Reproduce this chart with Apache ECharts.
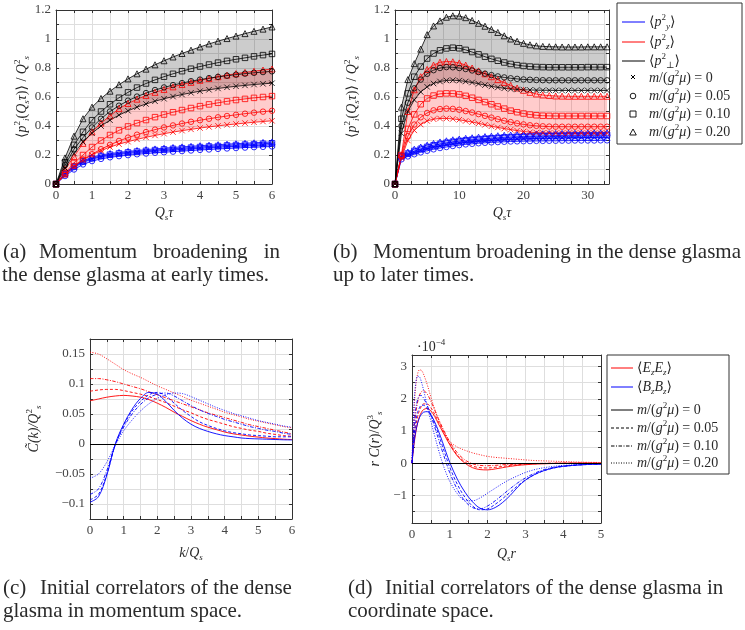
<!DOCTYPE html>
<html>
<head>
<meta charset="utf-8">
<script src="https://cdn.jsdelivr.net/npm/echarts@6/dist/echarts.min.js"></script>
<style>
html, body { margin: 0; padding: 0; background: #fff; }
#main { width: 745px; height: 630px; }
</style>
</head>
<body>
<div id="main"></div>
<script>
// ---------- (a) momentum broadening, early times ----------
const tauA = [0,0.25,0.5,0.75,1,1.25,1.5,1.75,2,2.25,2.5,2.75,3,3.25,3.5,3.75,4,4.25,4.5,4.75,5,5.25,5.5,5.75,6];
const aBlackT = [0,0.18,0.33,0.45,0.53,0.59,0.64,0.685,0.725,0.76,0.792,0.822,0.85,0.876,0.9,0.923,0.945,0.966,0.985,1.003,1.02,1.037,1.053,1.068,1.083];
const aBlackS = [0,0.15,0.27,0.36,0.44,0.5,0.55,0.595,0.632,0.665,0.693,0.718,0.74,0.76,0.778,0.795,0.81,0.824,0.837,0.849,0.86,0.87,0.88,0.889,0.897];
const aBlackO = [0,0.13,0.24,0.32,0.39,0.45,0.5,0.54,0.575,0.603,0.627,0.648,0.666,0.682,0.696,0.709,0.72,0.73,0.739,0.747,0.754,0.761,0.767,0.772,0.777];
const aBlackX = [0,0.11,0.21,0.29,0.35,0.4,0.44,0.475,0.505,0.53,0.552,0.571,0.588,0.603,0.617,0.629,0.64,0.65,0.659,0.667,0.674,0.68,0.686,0.691,0.695];
const aRedT = [0,0.1,0.19,0.28,0.36,0.42,0.47,0.52,0.555,0.585,0.61,0.632,0.652,0.67,0.686,0.701,0.715,0.728,0.74,0.751,0.761,0.77,0.778,0.786,0.793];
const aRedS = [0,0.075,0.145,0.2,0.255,0.3,0.338,0.37,0.397,0.42,0.441,0.461,0.479,0.495,0.51,0.524,0.537,0.549,0.56,0.57,0.579,0.587,0.594,0.6,0.606];
const aRedO = [0,0.065,0.125,0.17,0.205,0.24,0.27,0.297,0.32,0.34,0.358,0.375,0.39,0.404,0.417,0.429,0.44,0.45,0.46,0.469,0.477,0.485,0.492,0.499,0.505];
const aRedX = [0,0.06,0.12,0.165,0.2,0.23,0.255,0.275,0.292,0.308,0.322,0.335,0.347,0.358,0.368,0.377,0.386,0.394,0.401,0.408,0.414,0.42,0.426,0.431,0.436];
const aBlueT = [0,0.075,0.125,0.16,0.185,0.2,0.21,0.218,0.225,0.231,0.237,0.242,0.247,0.252,0.256,0.26,0.264,0.268,0.271,0.275,0.278,0.281,0.284,0.287,0.29];
const aBlueS = [0,0.07,0.12,0.155,0.178,0.193,0.203,0.211,0.218,0.224,0.229,0.234,0.239,0.243,0.247,0.251,0.255,0.259,0.262,0.266,0.269,0.272,0.275,0.278,0.281];
const aBlueX = [0,0.065,0.115,0.15,0.172,0.187,0.197,0.205,0.211,0.217,0.222,0.227,0.231,0.235,0.239,0.243,0.247,0.25,0.254,0.257,0.26,0.263,0.266,0.268,0.271];
const aBlueO = [0,0.055,0.1,0.135,0.158,0.173,0.184,0.192,0.199,0.205,0.21,0.215,0.219,0.223,0.227,0.231,0.235,0.238,0.242,0.245,0.248,0.251,0.254,0.256,0.259];

// ---------- (b) momentum broadening, later times ----------
const tauB = [0,1,2,3,4,5,6,7,8,9,10,11,12,13,14,15,16,17,18,19,20,21,22,23,24,25,26,27,28,29,30,31,32,33];
const bBlackT = [0,0.53,0.72,0.83,0.93,1.03,1.09,1.125,1.15,1.16,1.158,1.147,1.128,1.108,1.088,1.066,1.045,1.022,1.0,0.984,0.97,0.96,0.953,0.949,0.947,0.946,0.945,0.945,0.945,0.945,0.946,0.946,0.946,0.946];
const bBlackS = [0,0.45,0.625,0.74,0.81,0.865,0.9,0.922,0.935,0.94,0.936,0.925,0.91,0.894,0.878,0.863,0.85,0.838,0.828,0.82,0.814,0.81,0.807,0.806,0.805,0.805,0.805,0.805,0.805,0.805,0.806,0.806,0.806,0.806];
const bBlackO = [0,0.4,0.56,0.66,0.72,0.76,0.785,0.8,0.806,0.805,0.8,0.793,0.783,0.772,0.761,0.751,0.742,0.735,0.729,0.725,0.721,0.719,0.717,0.716,0.715,0.715,0.715,0.715,0.715,0.715,0.715,0.715,0.715,0.715];
const bBlackX = [0,0.35,0.5,0.58,0.635,0.67,0.693,0.707,0.714,0.716,0.713,0.707,0.7,0.691,0.682,0.673,0.666,0.66,0.655,0.652,0.65,0.648,0.647,0.646,0.646,0.645,0.645,0.645,0.645,0.645,0.645,0.645,0.645,0.645];
const bRedT = [0,0.2,0.5,0.65,0.74,0.79,0.82,0.84,0.845,0.843,0.835,0.82,0.8,0.78,0.76,0.74,0.72,0.7,0.68,0.662,0.646,0.632,0.621,0.614,0.61,0.607,0.606,0.605,0.605,0.605,0.605,0.605,0.605,0.605];
const bRedS = [0,0.2,0.38,0.48,0.55,0.59,0.61,0.622,0.625,0.624,0.618,0.608,0.595,0.58,0.565,0.55,0.535,0.52,0.506,0.495,0.486,0.479,0.474,0.471,0.47,0.469,0.469,0.469,0.469,0.469,0.469,0.469,0.469,0.469];
const bRedO = [0,0.19,0.33,0.41,0.46,0.49,0.508,0.517,0.52,0.518,0.512,0.503,0.493,0.482,0.47,0.458,0.447,0.436,0.427,0.418,0.411,0.405,0.401,0.398,0.396,0.395,0.395,0.395,0.395,0.395,0.395,0.395,0.395,0.395];
const bRedX = [0,0.18,0.3,0.37,0.41,0.435,0.447,0.452,0.452,0.449,0.443,0.435,0.427,0.418,0.408,0.398,0.39,0.382,0.375,0.368,0.362,0.357,0.354,0.352,0.351,0.35,0.35,0.35,0.35,0.35,0.35,0.35,0.35,0.35];
const bBlueT = [0,0.2,0.22,0.24,0.255,0.268,0.28,0.29,0.298,0.305,0.31,0.315,0.319,0.323,0.327,0.33,0.333,0.336,0.338,0.34,0.342,0.344,0.345,0.346,0.347,0.348,0.349,0.35,0.35,0.351,0.351,0.352,0.352,0.353];
const bBlueS = [0,0.192,0.21,0.228,0.243,0.256,0.267,0.277,0.285,0.292,0.297,0.302,0.306,0.31,0.313,0.316,0.319,0.322,0.324,0.326,0.328,0.329,0.331,0.332,0.333,0.334,0.335,0.336,0.336,0.337,0.337,0.338,0.338,0.339];
const bBlueX = [0,0.185,0.2,0.217,0.231,0.243,0.253,0.262,0.27,0.277,0.282,0.287,0.291,0.295,0.298,0.301,0.304,0.306,0.308,0.31,0.312,0.313,0.315,0.316,0.317,0.318,0.318,0.319,0.32,0.32,0.321,0.321,0.322,0.322];
const bBlueO = [0,0.17,0.19,0.205,0.218,0.229,0.239,0.248,0.255,0.262,0.268,0.273,0.277,0.281,0.284,0.287,0.289,0.291,0.293,0.294,0.295,0.296,0.297,0.297,0.298,0.298,0.299,0.299,0.3,0.3,0.3,0.3,0.301,0.301];

// ---------- (c) initial correlators, momentum space ----------
const kC = [0,0.25,0.5,0.75,1,1.25,1.5,1.75,2,2.25,2.5,2.75,3,3.25,3.5,3.75,4,4.25,4.5,4.75,5,5.25,5.5,5.75,6];
const cRedSolid = [0.072,0.075,0.078,0.08,0.081,0.08,0.078,0.074,0.068,0.061,0.053,0.046,0.039,0.033,0.028,0.024,0.02,0.017,0.015,0.013,0.0115,0.01,0.009,0.008,0.0075];
const cRedDash = [0.088,0.09,0.091,0.091,0.089,0.086,0.083,0.079,0.074,0.069,0.063,0.057,0.052,0.046,0.041,0.037,0.033,0.029,0.026,0.023,0.021,0.018,0.016,0.014,0.013];
const cRedDashDot = [0.109,0.109,0.107,0.104,0.1,0.096,0.092,0.087,0.082,0.077,0.072,0.067,0.062,0.057,0.052,0.048,0.044,0.04,0.036,0.032,0.029,0.026,0.023,0.02,0.017];
const cRedDot = [0.153,0.15,0.142,0.133,0.124,0.117,0.111,0.104,0.097,0.091,0.085,0.079,0.073,0.068,0.063,0.058,0.053,0.049,0.045,0.041,0.038,0.035,0.032,0.029,0.027];
const cBlueSolid = [-0.097,-0.088,-0.052,0,0.033,0.058,0.076,0.086,0.083,0.071,0.056,0.043,0.033,0.026,0.021,0.017,0.014,0.012,0.01,0.009,0.0085,0.008,0.0075,0.007,0.0068];
const cBlueDash = [-0.093,-0.084,-0.05,-0.001,0.031,0.055,0.071,0.082,0.086,0.08,0.068,0.056,0.046,0.037,0.031,0.026,0.022,0.019,0.017,0.015,0.014,0.013,0.012,0.012,0.012];
const cBlueDashDot = [-0.084,-0.075,-0.044,-0.002,0.028,0.05,0.066,0.077,0.083,0.085,0.08,0.072,0.064,0.057,0.051,0.046,0.041,0.037,0.033,0.029,0.026,0.023,0.021,0.018,0.016];
const cBlueDot = [-0.057,-0.05,-0.03,-0.002,0.022,0.04,0.055,0.067,0.076,0.082,0.085,0.084,0.079,0.073,0.067,0.061,0.056,0.051,0.047,0.043,0.039,0.036,0.033,0.03,0.028];

// ---------- (d) initial correlators, coordinate space (units of 1e-4) ----------
const rD = [0,0.05,0.1,0.15,0.2,0.25,0.3,0.4,0.5,0.6,0.7,0.8,0.9,1,1.2,1.4,1.6,1.8,2,2.2,2.4,2.6,2.8,3,3.25,3.5,3.75,4,4.5,5];
const dRedSolid = [0,0.55,0.95,1.25,1.45,1.58,1.66,1.7,1.62,1.45,1.22,1,0.78,0.57,0.22,0,-0.14,-0.2,-0.21,-0.18,-0.14,-0.1,-0.07,-0.05,-0.03,-0.02,-0.01,-0.005,0,0];
const dRedDash = [0,0.7,1.15,1.45,1.65,1.77,1.84,1.84,1.72,1.52,1.28,1.05,0.82,0.6,0.25,0.04,-0.09,-0.14,-0.15,-0.13,-0.1,-0.07,-0.05,-0.03,-0.02,-0.01,-0.005,0,0,0];
const dRedDashDot = [0,0.95,1.55,1.9,2.12,2.22,2.25,2.15,1.92,1.65,1.38,1.12,0.88,0.66,0.32,0.1,-0.02,-0.07,-0.08,-0.07,-0.05,-0.04,-0.03,-0.02,-0.01,-0.005,0,0,0,0];
const dRedDot = [0,1.5,2.4,2.78,2.9,2.88,2.78,2.45,2.05,1.68,1.35,1.08,0.85,0.67,0.5,0.4,0.32,0.26,0.21,0.18,0.16,0.14,0.12,0.1,0.08,0.07,0.06,0.05,0.03,0.02];
const dBlueSolid = [0,0.6,1,1.25,1.42,1.52,1.58,1.6,1.5,1.28,1,0.68,0.34,0.02,-0.5,-0.9,-1.2,-1.4,-1.45,-1.38,-1.22,-1,-0.74,-0.53,-0.35,-0.23,-0.15,-0.1,-0.05,-0.03];
const dBlueDash = [0,0.8,1.3,1.58,1.73,1.8,1.8,1.7,1.5,1.22,0.9,0.55,0.2,-0.13,-0.66,-1.06,-1.33,-1.45,-1.42,-1.28,-1.1,-0.9,-0.7,-0.52,-0.35,-0.23,-0.15,-0.1,-0.05,-0.03];
const dBlueDashDot = [0,1.1,1.7,1.98,2.1,2.1,2.03,1.8,1.48,1.12,0.75,0.38,0.03,-0.3,-0.82,-1.18,-1.38,-1.42,-1.33,-1.17,-0.98,-0.79,-0.61,-0.46,-0.31,-0.2,-0.13,-0.09,-0.05,-0.03];
const dBlueDot = [0,1.8,2.5,2.7,2.68,2.52,2.3,1.8,1.3,0.85,0.42,0.03,-0.3,-0.57,-0.95,-1.16,-1.17,-1.08,-0.93,-0.78,-0.63,-0.5,-0.39,-0.29,-0.2,-0.14,-0.1,-0.07,-0.04,-0.03];

const SERIF = '"Liberation Serif", "DejaVu Serif", serif';
const INK = '#2a2a2a';
const BLUE = '#0000ff', RED = '#ff0000', BLACK = '#000000';

const rich = {
  t:   { fontFamily: SERIF, fontStyle: 'italic', fontSize: 14, lineHeight: 18, color: INK },
  n:   { fontFamily: SERIF, fontSize: 14, lineHeight: 18, color: INK },
  sup: { fontFamily: SERIF, fontSize: 9, lineHeight: 11, verticalAlign: 'top', color: INK },
  sub: { fontFamily: SERIF, fontStyle: 'italic', fontSize: 9, lineHeight: 9, verticalAlign: 'bottom', color: INK }
};

function pts(xs, ys) { return xs.map((x, i) => [x, ys[i]]); }
function isMult(v, step) { return Math.abs(v / step - Math.round(v / step)) < 1e-6; }
function num(v) { return String(+v.toFixed(3)).replace('-', '\u2212'); }

const SYM = { x: 'path://M0,0L10,10M10,0L0,10', o: 'circle', s: 'rect', t: 'triangle' };

function marked(g, xs, ys, color, kind) {
  return {
    type: 'line', xAxisIndex: g, yAxisIndex: g, data: pts(xs, ys),
    symbol: SYM[kind], symbolSize: kind === 't' ? 6 : 5.5, showAllSymbol: true,
    lineStyle: { color: color, width: 0.8 },
    itemStyle: { color: 'transparent', borderColor: color, borderWidth: 0.8 },
    z: 3, silent: true
  };
}

// shaded region between a lower and an upper curve, drawn as one polygon
function band(g, xs, lo, hi, fill) {
  const rows = xs.map((x, i) => [x, lo[i], hi[i]]);
  return {
    type: 'custom', xAxisIndex: g, yAxisIndex: g, data: rows, z: 1, silent: true,
    encode: { x: 0, y: [1, 2] },
    renderItem: (params, api) => {
      if (params.dataIndex !== 0) return;
      const up = rows.map(r => api.coord([r[0], r[2]]));
      const down = rows.map(r => api.coord([r[0], r[1]])).reverse();
      return { type: 'polygon', shape: { points: up.concat(down) }, style: { fill: fill } };
    }
  };
}

const DASH = { solid: 'solid', dash: [3, 2], dashdot: [3.5, 1.5, 1, 1.5], dot: [1, 1.5] };
function curve(g, xs, ys, color, dash) {
  return {
    type: 'line', xAxisIndex: g, yAxisIndex: g, data: pts(xs, ys), symbol: 'none', smooth: 0.35,
    lineStyle: { color: color, width: 0.9, type: DASH[dash] }, z: 3, silent: true
  };
}

const grids = [
  { left: 56, top: 10, width: 216, height: 174 },
  { left: 395, top: 10, width: 214, height: 174 },
  { left: 90, top: 339, width: 202, height: 180 },
  { left: 412, top: 355, width: 189, height: 168 }
];

function axisBase(g, pos) {
  return {
    type: 'value', gridIndex: g, position: pos,
    axisLine: { show: true, onZero: false, lineStyle: { color: '#333', width: 1 } },
    axisTick: { show: true, inside: true, length: 3, lineStyle: { color: '#333' } },
    splitLine: { show: false },
    axisLabel: { show: false }
  };
}

function mainAxis(g, pos, range, labelStep, name, gap, rotate) {
  const ax = axisBase(g, pos);
  Object.assign(ax, range);
  ax.splitLine = { show: true, lineStyle: { color: '#dedede', width: 1 } };
  ax.axisLabel = {
    show: true, margin: 5, fontFamily: SERIF, fontSize: 13, color: '#444',
    formatter: v => isMult(v, labelStep) ? num(v) : ''
  };
  ax.name = name;
  ax.nameLocation = 'middle';
  ax.nameGap = gap;
  ax.nameTextStyle = { rich: rich };
  if (rotate) ax.nameRotate = 90;
  return ax;
}

const tauName = '{t|Q}{sub|s}{t|τ}';
const pName = '{n|⟨}{t|p}{sup|2}{sub|i}{n|(}{t|Q}{sub|s}{t|τ}{n|)⟩ / }{t|Q}{sup|2}{sub|s}';

const xRanges = [
  { min: 0, max: 6, interval: 0.5 },
  { min: 0, max: 33.3, interval: 2.5 },
  { min: 0, max: 6, interval: 0.5 },
  { min: 0, max: 5, interval: 0.5 }
];
const yRanges = [
  { min: 0, max: 1.2, interval: 0.1 },
  { min: 0, max: 1.2, interval: 0.1 },
  { min: -0.125, max: 0.175, interval: 0.025 },
  { min: -1.86, max: 3.36, splitNumber: 10 }
];

const xAxes = [
  mainAxis(0, 'bottom', xRanges[0], 1, tauName, 20),
  mainAxis(1, 'bottom', xRanges[1], 10, tauName, 20),
  mainAxis(2, 'bottom', xRanges[2], 1, '{t|k}{n|/}{t|Q}{sub|s}', 25),
  mainAxis(3, 'bottom', xRanges[3], 1, '{t|Q}{sub|s}{t|r}', 22)
];
const yAxes = [
  mainAxis(0, 'left', yRanges[0], 0.2, pName, 20, true),
  mainAxis(1, 'left', yRanges[1], 0.2, pName, 34, true),
  mainAxis(2, 'left', yRanges[2], 0.05, '{t|C̃(k)/Q}{sup|2}{sub|s}', 47, true),
  mainAxis(3, 'left', yRanges[3], 1, '{t|r C}{n|(}{t|r}{n|)/}{t|Q}{sup|3}{sub|s}', 28, true)
];
for (let g = 0; g < 4; g++) {
  xAxes.push(Object.assign(axisBase(g, 'top'), xRanges[g]));
  yAxes.push(Object.assign(axisBase(g, 'right'), yRanges[g]));
}

const zeroLine = {
  silent: true, symbol: 'none', label: { show: false },
  lineStyle: { color: '#000', width: 1, type: 'solid' },
  data: [{ yAxis: 0 }]
};

const series = [
  // (a)
  band(0, tauA, aBlackX, aBlackT, 'rgba(0,0,0,0.2)'),
  band(0, tauA, aRedX, aRedT, 'rgba(255,0,0,0.2)'),
  band(0, tauA, aBlueO, aBlueT, 'rgba(0,0,255,0.2)'),
  marked(0, tauA, aBlueX, BLUE, 'x'), marked(0, tauA, aBlueO, BLUE, 'o'),
  marked(0, tauA, aBlueS, BLUE, 's'), marked(0, tauA, aBlueT, BLUE, 't'),
  marked(0, tauA, aRedX, RED, 'x'), marked(0, tauA, aRedO, RED, 'o'),
  marked(0, tauA, aRedS, RED, 's'), marked(0, tauA, aRedT, RED, 't'),
  marked(0, tauA, aBlackX, BLACK, 'x'), marked(0, tauA, aBlackO, BLACK, 'o'),
  marked(0, tauA, aBlackS, BLACK, 's'), marked(0, tauA, aBlackT, BLACK, 't'),
  // (b)
  band(1, tauB, bBlackX, bBlackT, 'rgba(0,0,0,0.2)'),
  band(1, tauB, bRedX, bRedT, 'rgba(255,0,0,0.2)'),
  band(1, tauB, bBlueO, bBlueT, 'rgba(0,0,255,0.2)'),
  marked(1, tauB, bBlueX, BLUE, 'x'), marked(1, tauB, bBlueO, BLUE, 'o'),
  marked(1, tauB, bBlueS, BLUE, 's'), marked(1, tauB, bBlueT, BLUE, 't'),
  marked(1, tauB, bRedX, RED, 'x'), marked(1, tauB, bRedO, RED, 'o'),
  marked(1, tauB, bRedS, RED, 's'), marked(1, tauB, bRedT, RED, 't'),
  marked(1, tauB, bBlackX, BLACK, 'x'), marked(1, tauB, bBlackO, BLACK, 'o'),
  marked(1, tauB, bBlackS, BLACK, 's'), marked(1, tauB, bBlackT, BLACK, 't'),
  // (c)
  Object.assign(curve(2, kC, cRedSolid, RED, 'solid'), { markLine: zeroLine }),
  curve(2, kC, cRedDash, RED, 'dash'),
  curve(2, kC, cRedDashDot, RED, 'dashdot'),
  curve(2, kC, cRedDot, RED, 'dot'),
  curve(2, kC, cBlueSolid, BLUE, 'solid'),
  curve(2, kC, cBlueDash, BLUE, 'dash'),
  curve(2, kC, cBlueDashDot, BLUE, 'dashdot'),
  curve(2, kC, cBlueDot, BLUE, 'dot'),
  // (d)
  Object.assign(curve(3, rD, dRedSolid, RED, 'solid'), { markLine: zeroLine }),
  curve(3, rD, dRedDash, RED, 'dash'),
  curve(3, rD, dRedDashDot, RED, 'dashdot'),
  curve(3, rD, dRedDot, RED, 'dot'),
  curve(3, rD, dBlueSolid, BLUE, 'solid'),
  curve(3, rD, dBlueDash, BLUE, 'dash'),
  curve(3, rD, dBlueDashDot, BLUE, 'dashdot'),
  curve(3, rD, dBlueDot, BLUE, 'dot')
];

// ---------- legends, captions, exponent ----------
function label(x, y, text, size, align) {
  return {
    type: 'text', silent: true,
    style: {
      text: text, x: x, y: y, rich: rich,
      font: (size || 13) + 'px ' + SERIF, fill: INK,
      align: align || 'left', verticalAlign: 'middle',
      textAlign: align || 'left', textVerticalAlign: 'middle'
    }
  };
}
function seg(x1, y1, x2, y2, color, dash) {
  return {
    type: 'line', silent: true, shape: { x1: x1, y1: y1, x2: x2, y2: y2 },
    style: { stroke: color, lineWidth: 1, lineDash: dash || null }
  };
}
const mText = v => '{t|m}{n|/(}{t|g}{sup|2}{t|μ}{n|) = ' + v + '}';

const legendB = [
  { type: 'rect', silent: true, shape: { x: 617, y: 3, width: 125, height: 141 },
    style: { fill: '#fff', stroke: '#333', lineWidth: 1 } },
  seg(622, 22, 645, 22, BLUE), label(649, 22, '{n|⟨}{t|p}{sup|2}{sub|y}{n|⟩}'),
  seg(622, 42, 645, 42, RED), label(649, 42, '{n|⟨}{t|p}{sup|2}{sub|z}{n|⟩}'),
  seg(622, 61, 645, 61, BLACK), label(649, 61, '{n|⟨}{t|p}{sup|2}{sub|⊥}{n|⟩}'),
  seg(631, 75, 635, 79, BLACK), seg(635, 75, 631, 79, BLACK), label(649, 78, mText('0')),
  { type: 'circle', silent: true, shape: { cx: 633, cy: 96, r: 2.8 }, style: { fill: 'none', stroke: BLACK, lineWidth: 0.9 } },
  label(649, 96, mText('0.05')),
  { type: 'rect', silent: true, shape: { x: 630, y: 111, width: 6, height: 6 }, style: { fill: 'none', stroke: BLACK, lineWidth: 0.9 } },
  label(649, 114, mText('0.10')),
  { type: 'polygon', silent: true, shape: { points: [[633, 129], [636.3, 135], [629.7, 135]] }, style: { fill: 'none', stroke: BLACK, lineWidth: 0.9 } },
  label(649, 132, mText('0.20'))
];

const legendD = [
  { type: 'rect', silent: true, shape: { x: 607, y: 355, width: 122, height: 119 },
    style: { fill: '#fff', stroke: '#333', lineWidth: 1 } },
  seg(611, 368, 633, 368, RED), label(637, 368, '{n|⟨}{t|E}{sub|z}{t|E}{sub|z}{n|⟩}'),
  seg(611, 387, 633, 387, BLUE), label(637, 387, '{n|⟨}{t|B}{sub|z}{t|B}{sub|z}{n|⟩}'),
  seg(611, 410, 633, 410, BLACK), label(637, 410, mText('0')),
  seg(611, 428, 633, 428, BLACK, DASH.dash), label(637, 428, mText('0.05')),
  seg(611, 446, 633, 446, BLACK, DASH.dashdot), label(637, 446, mText('0.10')),
  seg(611, 463, 633, 463, BLACK, DASH.dot), label(637, 463, mText('0.20'))
];

const capFont = 21;
const captions = [
  label(3, 252, '(a)', capFont), label(39, 252, 'Momentum', capFont),
  label(153, 252, 'broadening', capFont), label(280, 252, 'in', capFont, 'right'),
  label(2, 275, 'the dense glasma at early times.', capFont),
  label(333, 252, '(b)', capFont), label(373, 252, 'Momentum broadening in the dense glasma', capFont),
  label(333, 275, 'up to later times.', capFont),
  label(3, 588, '(c)', capFont), label(40, 588, 'Initial correlators of the dense', capFont),
  label(3, 611, 'glasma in momentum space.', capFont),
  label(348, 588, '(d)', capFont), label(385, 588, 'Initial correlators of the dense glasma in', capFont),
  label(348, 611, 'coordinate space.', capFont),
  label(417, 347, '{n|·10}{sup|−4}', 13)
];

const chart = echarts.init(document.getElementById('main'), null, { renderer: 'canvas' });
chart.setOption({
  animation: false,
  backgroundColor: '#fff',
  grid: grids,
  xAxis: xAxes,
  yAxis: yAxes,
  series: series,
  graphic: { elements: legendB.concat(legendD, captions) }
});
</script>
</body>
</html>
